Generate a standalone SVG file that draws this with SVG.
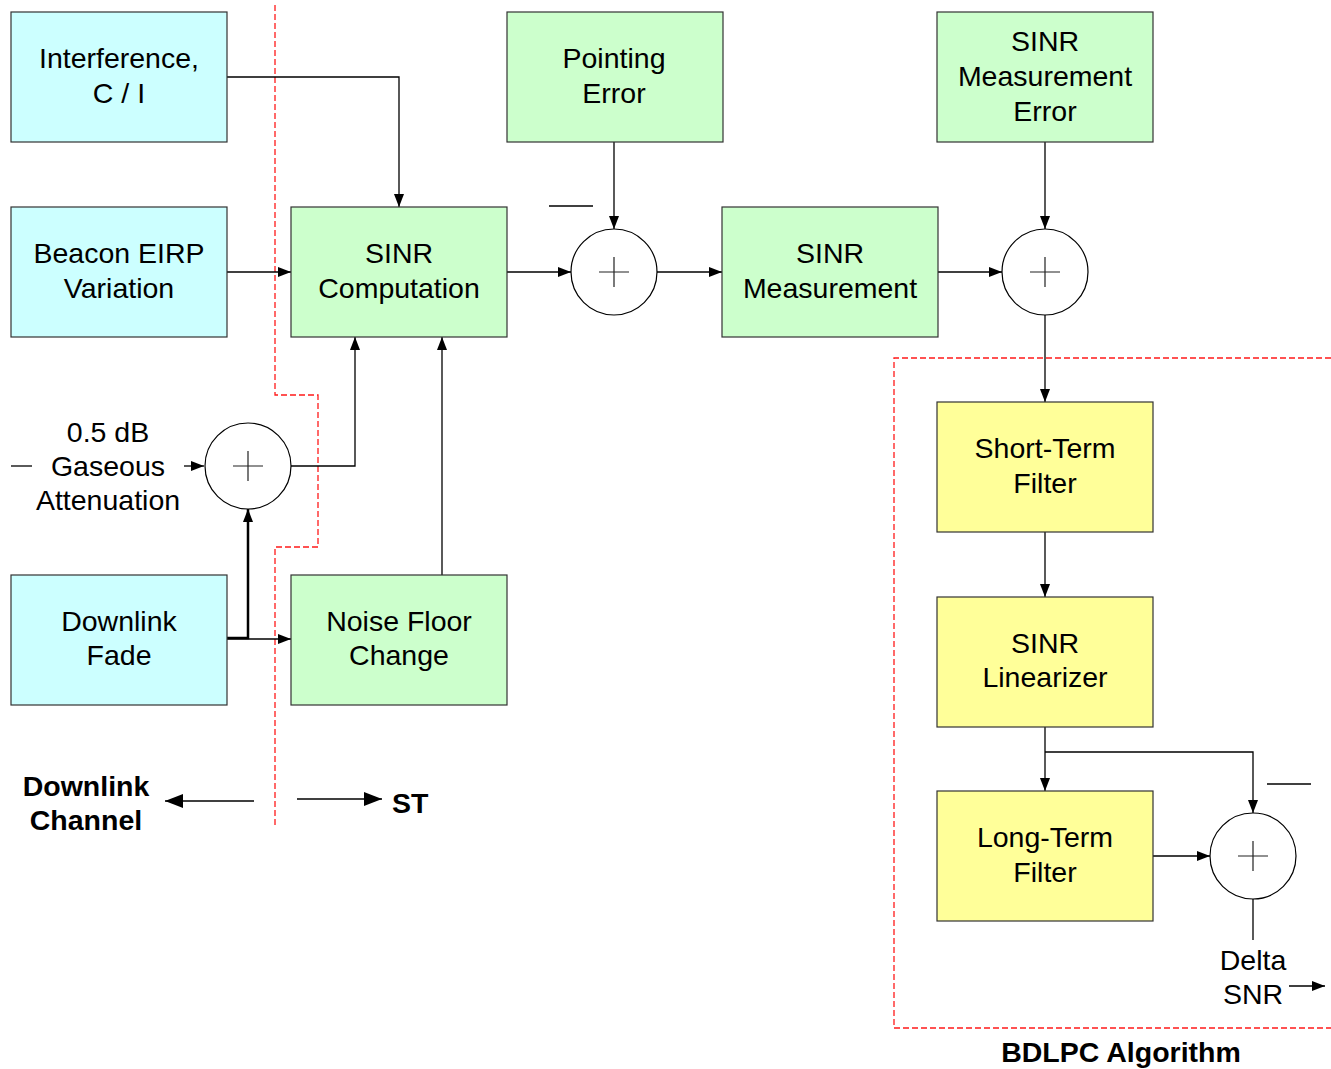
<svg xmlns="http://www.w3.org/2000/svg" width="1331" height="1069" viewBox="0 0 1331 1069">
<style>
.box{stroke:#333;stroke-width:1.2}
.cyan{fill:#CCFFFF}
.green{fill:#CCFFCC}
.yellow{fill:#FFFF99}
.sum{fill:#fff;stroke:#000;stroke-width:1.2}
.plus{stroke:#222;stroke-width:1.2;fill:none}
.t{font-family:"Liberation Sans",Arial,sans-serif;font-size:28.5px;fill:#000;text-anchor:middle}
.b{font-weight:bold}
.c{stroke:#000;stroke-width:1.3;fill:none}
.ca{stroke:#000;stroke-width:1.3;fill:none;marker-end:url(#ah)}
.red{stroke:#FF1A1A;stroke-width:1.3;fill:none;stroke-dasharray:6,3}
</style>
<defs>
<marker id="ah" viewBox="0 0 13 10" refX="13" refY="5" markerWidth="13" markerHeight="10" markerUnits="userSpaceOnUse" orient="auto">
<path d="M0,0 L13,5 L0,10 z" fill="#000"/>
</marker>
<marker id="ahb" viewBox="0 0 18 14" refX="18" refY="7" markerWidth="18" markerHeight="14" markerUnits="userSpaceOnUse" orient="auto">
<path d="M0,0 L18,7 L0,14 z" fill="#000"/>
</marker>
</defs>
<rect width="1331" height="1069" fill="#fff"/>

<g id="boundaries">
<path class="red" d="M275,5 V395 H318 V547 H275 V825"/>
<path class="red" d="M1331,358 H894 V1028 H1331"/>
</g>

<g id="connectors">
<path class="ca" d="M227,77 H399 V207"/>
<path class="ca" d="M227,272 H291"/>
<path class="ca" d="M507,272 H571"/>
<path class="ca" d="M657,272 H722"/>
<path class="ca" d="M614,142 V229"/>
<path class="ca" d="M938,272 H1002"/>
<path class="ca" d="M1045,142 V229"/>
<path class="ca" d="M1045,315 V402"/>
<path class="ca" d="M1045,532 V597"/>
<path class="ca" d="M1045,727 V791"/>
<path class="ca" d="M1045,752 H1253 V813"/>
<path class="ca" d="M1153,856 H1210"/>
<path class="c" d="M1253,899 V940"/>
<path class="ca" d="M1289,986 H1325"/>
<path class="ca" d="M291,466 H355 V337"/>
<path class="ca" d="M442,575 V337"/>
<path class="ca" d="M227,639 H291"/>
<path class="ca" d="M227,638 H248 V509" style="stroke-width:2.5"/>
<path class="c" d="M11,466 H32"/>
<path class="ca" d="M184,466 H204"/>
<path class="c" d="M549,206 H593"/>
<path class="c" d="M1267,784 H1311"/>
<path class="c" d="M254,801 H165" style="marker-end:url(#ahb);stroke-width:1.5"/>
<path class="c" d="M297,799 H382" style="marker-end:url(#ahb);stroke-width:1.5"/>
</g>

<g id="interference">
<rect class="box cyan" x="11" y="12" width="216" height="130"/>
<text class="t" x="119" y="68">Interference,</text>
<text class="t" x="119" y="103">C / I</text>
</g>
<g id="beacon">
<rect class="box cyan" x="11" y="207" width="216" height="130"/>
<text class="t" x="119" y="263">Beacon EIRP</text>
<text class="t" x="119" y="298">Variation</text>
</g>
<g id="downlink-fade">
<rect class="box cyan" x="11" y="575" width="216" height="130"/>
<text class="t" x="119" y="631">Downlink</text>
<text class="t" x="119" y="665">Fade</text>
</g>
<g id="sinr-computation">
<rect class="box green" x="291" y="207" width="216" height="130"/>
<text class="t" x="399" y="263">SINR</text>
<text class="t" x="399" y="298">Computation</text>
</g>
<g id="noise-floor">
<rect class="box green" x="291" y="575" width="216" height="130"/>
<text class="t" x="399" y="631">Noise Floor</text>
<text class="t" x="399" y="665">Change</text>
</g>
<g id="pointing-error">
<rect class="box green" x="507" y="12" width="216" height="130"/>
<text class="t" x="614" y="68">Pointing</text>
<text class="t" x="614" y="103">Error</text>
</g>
<g id="sinr-measurement">
<rect class="box green" x="722" y="207" width="216" height="130"/>
<text class="t" x="830" y="263">SINR</text>
<text class="t" x="830" y="298">Measurement</text>
</g>
<g id="sinr-measurement-error">
<rect class="box green" x="937" y="12" width="216" height="130"/>
<text class="t" x="1045" y="51">SINR</text>
<text class="t" x="1045" y="86">Measurement</text>
<text class="t" x="1045" y="121">Error</text>
</g>
<g id="short-term-filter">
<rect class="box yellow" x="937" y="402" width="216" height="130"/>
<text class="t" x="1045" y="458">Short-Term</text>
<text class="t" x="1045" y="493">Filter</text>
</g>
<g id="sinr-linearizer">
<rect class="box yellow" x="937" y="597" width="216" height="130"/>
<text class="t" x="1045" y="653">SINR</text>
<text class="t" x="1045" y="687">Linearizer</text>
</g>
<g id="long-term-filter">
<rect class="box yellow" x="937" y="791" width="216" height="130"/>
<text class="t" x="1045" y="847">Long-Term</text>
<text class="t" x="1045" y="882">Filter</text>
</g>

<g id="sum1">
<circle class="sum" cx="614" cy="272" r="43"/>
<path class="plus" d="M599,272 H629 M614,257 V287"/>
</g>
<g id="sum2">
<circle class="sum" cx="1045" cy="272" r="43"/>
<path class="plus" d="M1030,272 H1060 M1045,257 V287"/>
</g>
<g id="sum3">
<circle class="sum" cx="248" cy="466" r="43"/>
<path class="plus" d="M233,466 H263 M248,451 V481"/>
</g>
<g id="sum4">
<circle class="sum" cx="1253" cy="856" r="43"/>
<path class="plus" d="M1238,856 H1268 M1253,841 V871"/>
</g>

<g id="gaseous">
<text class="t" x="108" y="442">0.5 dB</text>
<text class="t" x="108" y="476">Gaseous</text>
<text class="t" x="108" y="510">Attenuation</text>
</g>
<g id="delta-snr">
<text class="t" x="1253" y="970">Delta</text>
<text class="t" x="1253" y="1004">SNR</text>
</g>
<g id="labels">
<text class="t b" x="86" y="796">Downlink</text>
<text class="t b" x="86" y="830">Channel</text>
<text class="t b" x="392" y="813" style="text-anchor:start">ST</text>
<text class="t b" x="1121" y="1062">BDLPC Algorithm</text>
</g>
</svg>
